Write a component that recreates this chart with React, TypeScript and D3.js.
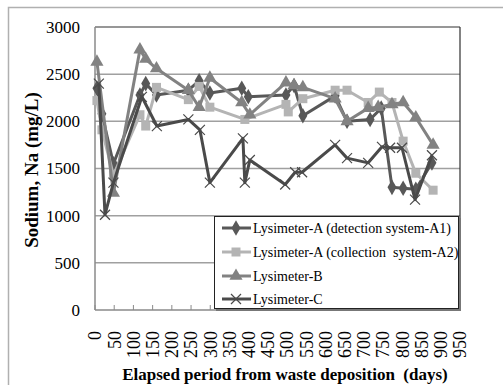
import React from 'react';
import * as d3 from 'd3';

// days / sodium (mg/L)
const a1Days = [5, 18, 48, 117, 132, 160, 243, 271, 299, 382, 399, 497, 518, 541, 625, 656, 716, 745, 773, 802, 835, 877];
const a1Vals = [2350, 2080, 1550, 2280, 2400, 2280, 2330, 2430, 2300, 2350, 2260, 2280, 2380, 2060, 2270, 2000, 2020, 2140, 1300, 1290, 1280, 1560];

const a2Days = [5, 18, 48, 117, 132, 160, 243, 271, 299, 390, 497, 503, 541, 625, 656, 711, 740, 773, 802, 835, 880];
const a2Vals = [2220, 1910, 1430, 2070, 1950, 2360, 2230, 2370, 2150, 2020, 2180, 2100, 2240, 2330, 2330, 2200, 2310, 2200, 1790, 1450, 1270];

const bDays = [5, 48, 117, 132, 160, 243, 271, 299, 382, 403, 497, 518, 541, 625, 656, 711, 737, 773, 802, 835, 880];
const bVals = [2630, 1240, 2760, 2660, 2560, 2330, 2150, 2460, 2200, 2070, 2410, 2380, 2360, 2240, 2000, 2140, 2150, 2180, 2200, 2040, 1750];

const cDays = [10, 26, 48, 122, 161, 243, 273, 299, 385, 390, 403, 495, 521, 539, 625, 656, 711, 747, 768, 799, 833, 877];
const cVals = [2400, 1010, 1350, 2260, 1950, 2020, 1910, 1350, 1820, 1350, 1590, 1330, 1460, 1460, 1750, 1610, 1560, 1730, 1720, 1720, 1170, 1640];

const seriesNames = [
  'Lysimeter-A (detection system-A1)',
  'Lysimeter-A (collection\u00a0 system-A2)',
  'Lysimeter-B',
  'Lysimeter-C',
];
const xTicks = d3.range(0, 951, 50);
const yTicks = [0, 500, 1000, 1500, 2000, 2500, 3000];

const FONT = 'Times New Roman';

const x = d3.scaleLinear().domain([0, 950]).range([95, 460]);
const y = d3.scaleLinear().domain([0, 3000]).range([310, 27]);

const series = [
  { days: a1Days, vals: a1Vals, color: '#585858', marker: 'diamond' },
  { days: a2Days, vals: a2Vals, color: '#b4b4b4', marker: 'square' },
  { days: bDays, vals: bVals, color: '#828282', marker: 'triangle' },
  { days: cDays, vals: cVals, color: '#4a4a4a', marker: 'x' },
];

const line = d3.line<[number, number]>()
  .x(d => x(d[0]))
  .y(d => y(d[1]));

function Marker({ kind, cx, cy, color }) {
  if (kind === 'x') {
    return (
      <path d={`M${cx - 5},${cy - 5}L${cx + 5},${cy + 5}M${cx - 5},${cy + 5}L${cx + 5},${cy - 5}`}
        stroke={color} strokeWidth={1.2} fill="none" />
    );
  }
  const type = kind === 'diamond' ? d3.symbolDiamond : kind === 'square' ? d3.symbolSquare : d3.symbolTriangle;
  const size = kind === 'diamond' ? 70 : kind === 'square' ? 81 : 75;
  return <path d={d3.symbol().type(type).size(size)()} transform={`translate(${cx},${cy})`} fill={color} />;
}

export default function App() {
  const legendY = [228, 252, 276, 299];
  return (
    <svg width={503} height={385} fontFamily={FONT}
      style={{ position: 'absolute', left: 0, top: 0, background: '#fff', fontFamily: `'${FONT}'` }}>
      {/* chart area frame */}
      <rect x={8.5} y={7.5} width={600} height={600} fill="#fff" stroke="#b0b0b0" strokeWidth={1.5} />

      {/* gridlines */}
      {yTicks.filter(t => t > 0 && t < 3000).map(t => (
        <line key={t} x1={x(0)} x2={x(950)} y1={y(t)} y2={y(t)} stroke="#a0a0a0" strokeWidth={1.5} />
      ))}
      <line x1={x(0)} x2={x(950)} y1={y(3000)} y2={y(3000)} stroke="#303030" strokeWidth={1.2} />
      <line x1={x(950)} x2={x(950)} y1={y(3000)} y2={y(0)} stroke="#303030" strokeWidth={1.2} />
      <line x1={x(0)} x2={x(0)} y1={y(3000)} y2={y(0)} stroke="#8a8a8a" strokeWidth={1.5} />
      <line x1={x(0)} x2={x(950)} y1={y(0)} y2={y(0)} stroke="#8a8a8a" strokeWidth={1.5} />
      {xTicks.map(t => (
        <line key={t} x1={x(t)} x2={x(t)} y1={y(0)} y2={y(0) - 5} stroke="#8a8a8a" strokeWidth={1} />
      ))}

      {/* tick labels */}
      {yTicks.map(t => (
        <text key={t} x={80} y={y(t)} dy="0.35em" textAnchor="end" fontFamily={FONT} fontSize={17}>{t}</text>
      ))}
      {xTicks.map(t => (
        <text key={t} transform={`translate(${x(t)},331) rotate(-90)`} dy="0.35em" textAnchor="end"
          fontFamily={FONT} fontSize={18}>{t}</text>
      ))}

      {/* axis titles */}
      <text transform="translate(38,170) rotate(-90)" textAnchor="middle" fontFamily={FONT} fontSize={19}
        fontWeight="bold">Sodium, Na (mg/L)</text>
      <text x={285} y={380} textAnchor="middle" fontFamily={FONT} fontSize={17} fontWeight="bold">
        {'Elapsed period from waste deposition\u00a0 (days)'}</text>

      {/* series */}
      {series.map((s, i) => {
        const pts = s.days.map((d, j) => [d, s.vals[j]] as [number, number]);
        return (
          <g key={i}>
            <path d={line(pts)} fill="none" stroke={s.color} strokeWidth={3} strokeLinejoin="round" />
            {pts.map((p, j) => <Marker key={j} kind={s.marker} cx={x(p[0])} cy={y(p[1])} color={s.color} />)}
          </g>
        );
      })}

      {/* legend */}
      <rect x={216} y={218} width={245} height={93} fill="#777" />
      <rect x={214.5} y={216.5} width={244} height={92} fill="#fff" stroke="#222" strokeWidth={1} />
      {series.map((s, i) => (
        <g key={i}>
          <line x1={222} x2={251} y1={legendY[i]} y2={legendY[i]} stroke={s.color} strokeWidth={3} />
          <Marker kind={s.marker} cx={236} cy={legendY[i]} color={s.color} />
          <text x={253} y={legendY[i]} dy="0.35em" fontFamily={FONT} fontSize={14}>{seriesNames[i]}</text>
        </g>
      ))}
    </svg>
  );
}
